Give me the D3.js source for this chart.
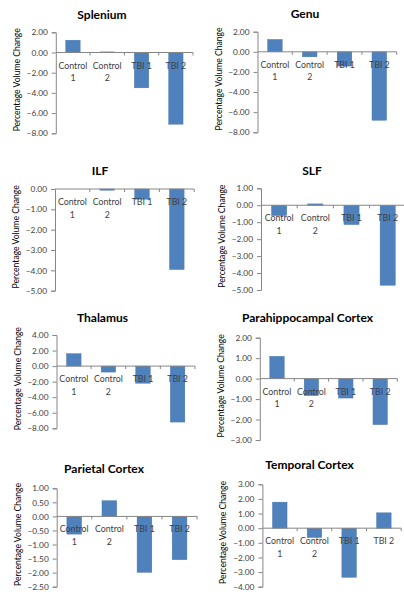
<!DOCTYPE html>
<html><head><meta charset="utf-8">
<script src="https://cdn.jsdelivr.net/npm/d3@7"></script>
<style>body{margin:0;background:#fff;}svg{display:block;}</style>
</head><body>
<svg id="c" width="404" height="600"></svg>
<script>
// ---- data ----
const categories = ["Control 1", "Control 2", "TBI 1", "TBI 2"];
const titles = ["Splenium", "Genu", "ILF", "SLF", "Thalamus", "Parahippocampal Cortex", "Parietal Cortex", "Temporal Cortex"];
const splenium = [1.22, 0.06, -3.50, -7.10];
const genu = [1.23, -0.50, -1.42, -6.80];
const ilf = [0.00, -0.06, -0.50, -3.96];
const slf = [-0.61, 0.08, -1.14, -4.72];
const thalamus = [1.60, -0.77, -2.20, -7.20];
const parahippocampal = [1.09, -0.83, -0.95, -2.25];
const parietal = [-0.63, 0.56, -1.99, -1.54];
const temporal = [1.78, -0.64, -3.36, 1.05];
const ticksSplenium = [2, 0, -2, -4, -6, -8];
const ticksGenu = [2, 0, -2, -4, -6, -8];
const ticksIlf = [0, -1, -2, -3, -4, -5];
const ticksSlf = [1, 0, -1, -2, -3, -4, -5];
const ticksThalamus = [4, 2, 0, -2, -4, -6, -8];
const ticksPara = [2, 1, 0, -1, -2, -3];
const ticksParietal = [1, 0.5, 0, -0.5, -1, -1.5, -2, -2.5];
const ticksTemporal = [3, 2, 1, 0, -1, -2, -3, -4];
const yTitle = "Percentage Volume Change";

const seriesList = [splenium, genu, ilf, slf, thalamus, parahippocampal, parietal, temporal];
const tickList = [ticksSplenium, ticksGenu, ticksIlf, ticksSlf, ticksThalamus, ticksPara, ticksParietal, ticksTemporal];

// ---- layout (positions only) ----
const layout = [
  {x0: 55.8, band: 34.3, yTop: 32.3,  yBot: 133.3, tx: 102, ty: 18.5},
  {x0: 257.5, band: 34.8, yTop: 31.7, yBot: 132.3, tx: 305, ty: 17.5},
  {x0: 55,   band: 34.8, yTop: 189,   yBot: 290.7, tx: 100, ty: 174.5},
  {x0: 261,  band: 36.2, yTop: 188.3, yBot: 290,   tx: 312, ty: 174.5},
  {x0: 56.5, band: 34.6, yTop: 335,   yBot: 428.3, tx: 102.5, ty: 321.7},
  {x0: 259.8,band: 34.4, yTop: 337.7, yBot: 440,   tx: 307.5, ty: 321.7},
  {x0: 56.7, band: 35.1, yTop: 488.3, yBot: 586.7, tx: 104, ty: 473.3},
  {x0: 262.4,band: 34.7, yTop: 484.3, yBot: 586.7, tx: 309.5, ty: 469.3}
];

const svg = d3.select("#c");
const FONT = "Lato, 'Open Sans', sans-serif";
const axisColor = "#868686";

seriesList.forEach((vals, i) => {
  const L = layout[i];
  const ticks = tickList[i];
  const g = svg.append("g");
  const x = d3.scaleBand().domain(categories).range([L.x0, L.x0 + L.band * categories.length]).paddingInner(0.58).paddingOuter(0.29);
  const y = d3.scaleLinear().domain([d3.min(ticks), d3.max(ticks)]).range([L.yBot, L.yTop]);
  const dec = 2;

  // title
  g.append("text").attr("x", L.tx).attr("y", L.ty).attr("text-anchor", "middle")
    .attr("font-family", FONT).attr("font-weight", "bold").attr("font-size", 12).attr("fill", "#000")
    .text(titles[i]);

  // y axis
  const yAxis = d3.axisLeft(y).tickValues(ticks).tickSize(4).tickPadding(4).tickFormat(d3.format(".2f"));
  const ya = g.append("g").attr("transform", `translate(${L.x0},0)`).call(yAxis);
  ya.select(".domain").attr("stroke", axisColor);
  ya.selectAll(".tick line").attr("stroke", axisColor);
  ya.selectAll(".tick text").attr("font-family", FONT).attr("font-size", 8.3).attr("fill", "#404040");

  // y title
  const cy = (L.yTop + L.yBot) / 2 - 3;
  g.append("text").attr("transform", `translate(${L.x0 - 36},${cy}) rotate(-90)`)
    .attr("text-anchor", "middle").attr("font-family", FONT).attr("font-size", 8.6).attr("fill", "#000")
    .text(yTitle);

  // bars
  g.selectAll("rect.bar").data(vals).join("rect").attr("class", "bar")
    .attr("x", (d, j) => x(categories[j]))
    .attr("width", x.bandwidth())
    .attr("y", d => y(Math.max(0, d)))
    .attr("height", d => Math.abs(y(d) - y(0)))
    .attr("fill", "#4f81bd").attr("stroke", "#4472a8").attr("stroke-width", 0.4);

  // x axis at zero
  const x1 = L.x0 + L.band * categories.length;
  const y0 = y(0);
  g.append("line").attr("x1", L.x0).attr("x2", x1).attr("y1", y0).attr("y2", y0).attr("stroke", axisColor);
  for (let k = 1; k <= categories.length; k++) {
    const xx = L.x0 + L.band * k;
    g.append("line").attr("x1", xx).attr("x2", xx).attr("y1", y0).attr("y2", y0 + 3).attr("stroke", axisColor);
  }

  // category labels
  categories.forEach(c => {
    const cx = x(c) + x.bandwidth() / 2;
    const lines = c.startsWith("Control") ? c.split(" ") : [c];
    lines.forEach((t, li) => {
      g.append("text").attr("x", cx).attr("y", y0 + 16 + li * 12.5).attr("text-anchor", "middle")
        .attr("font-family", FONT).attr("font-size", 8.8).attr("fill", "#404040").text(t);
    });
  });
});
</script>
</body></html>
